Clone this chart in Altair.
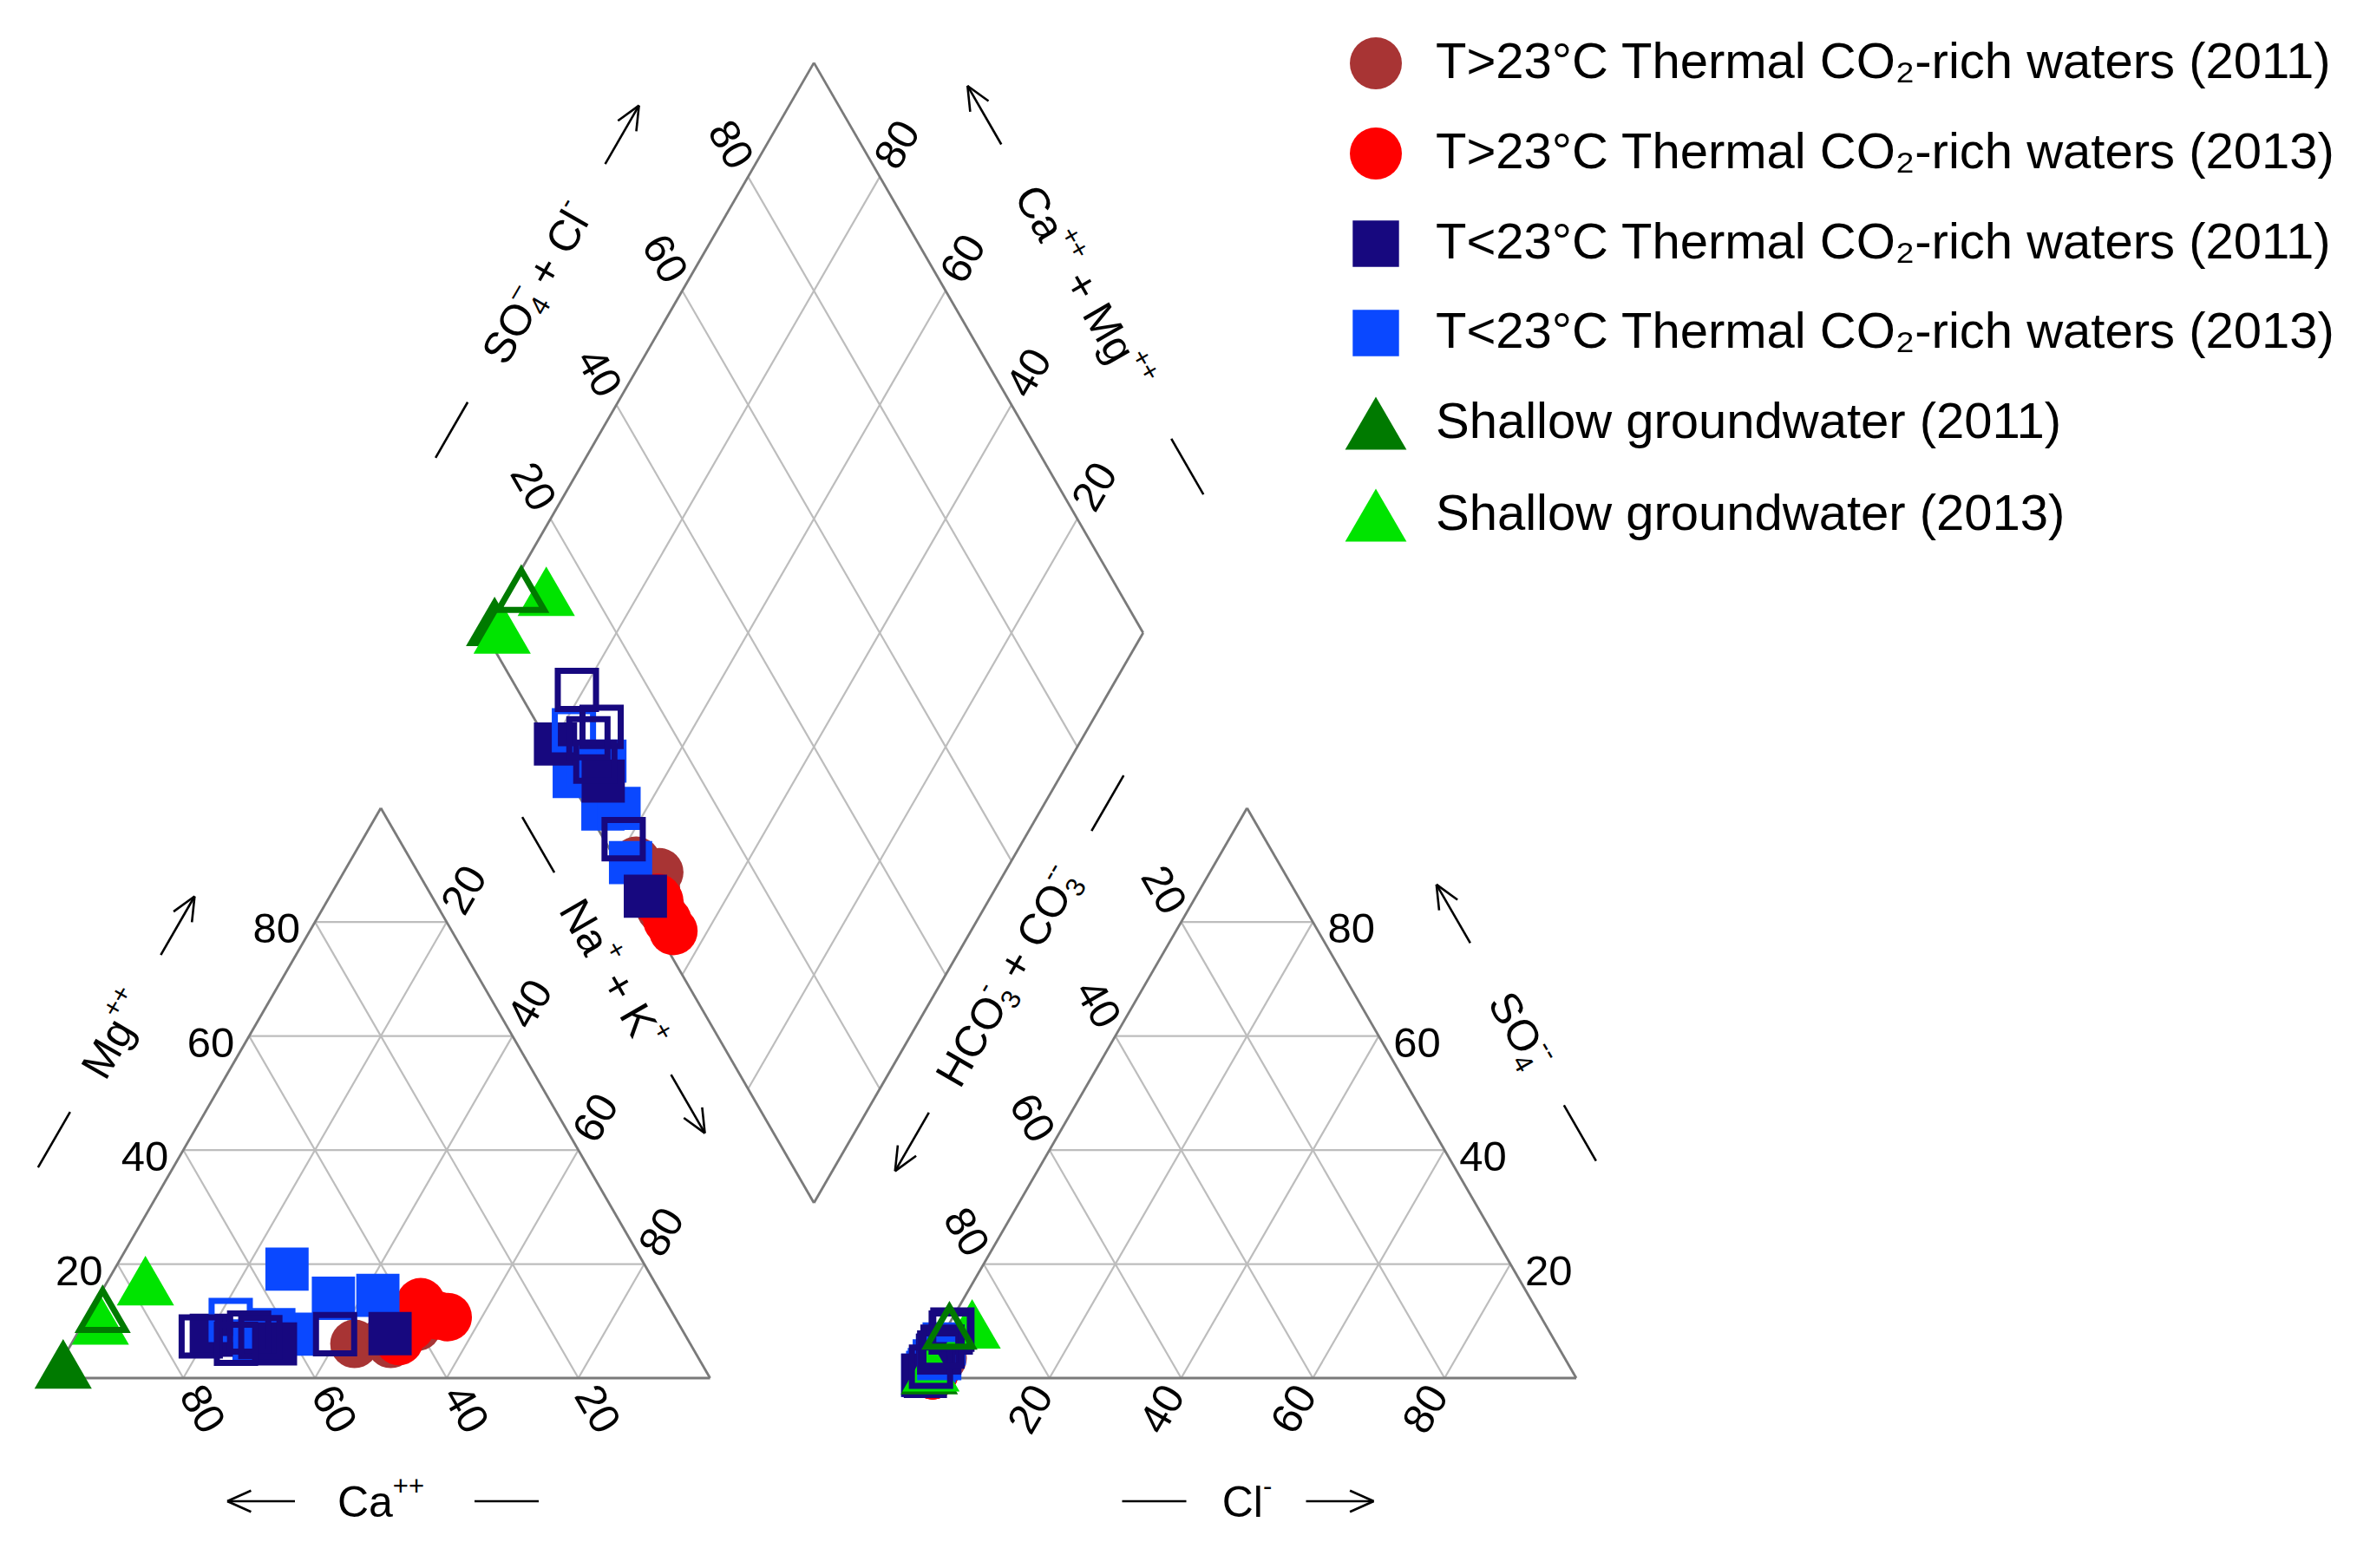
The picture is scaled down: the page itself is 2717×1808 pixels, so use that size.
import math
import altair as alt
import pandas as pd

# ------------------------------------------------------------------ data
GROUPS = [
    "T>23°C Thermal CO₂-rich waters (2011)",
    "T>23°C Thermal CO₂-rich waters (2013)",
    "T<23°C Thermal CO₂-rich waters (2011)",
    "T<23°C Thermal CO₂-rich waters (2013)",
    "Shallow groundwater (2011)",
    "Shallow groundwater (2013)",
]
COLORS = ["#A83434", "#FF0000", "#17087F", "#0A48FF", "#007A00", "#00E400"]

# samples in drawing order (group index into GROUPS)
sample_group = [0, 0, 0, 0,
                1, 1, 1, 1, 1,
                3, 3, 3, 3, 3, 3, 3,
                2, 2, 2, 2, 2, 2, 2, 2,
                4, 4,
                5, 5]
# cations, % meq
ca = [51.0, 45.5, 45.0, 40.0,
      37.3, 34.5, 41.0, 36.0, 44.0,
      67.7, 54.7, 58.9, 50.2, 43.2, 62.0, 66.0,
      73.7, 72.0, 66.0, 64.7, 63.0, 53.1, 44.7, 69.0,
      97.0, 86.3,
      87.5, 77.2]
mg = [6.0, 6.0, 7.5, 9.0,
      13.3, 10.7, 9.0, 11.0, 6.5,
      10.2, 19.1, 7.7, 14.0, 14.5, 8.5, 6.5,
      7.3, 7.5, 8.0, 7.2, 6.0, 7.7, 7.8, 6.0,
      2.5, 11.9,
      10.2, 17.1]
nak = [43.0, 48.5, 47.5, 51.0,
       49.4, 54.8, 50.0, 53.0, 49.5,
       22.1, 26.2, 33.4, 35.8, 42.3, 29.5, 27.5,
       19.0, 20.5, 26.0, 28.1, 31.0, 39.2, 47.5, 25.0,
       0.5, 1.8,
       2.3, 5.7]
# anions, % meq
hco3 = [97.0, 96.5, 94.5, 97.5,
        97.5, 97.5, 97.0, 97.5, 97.0,
        95.0, 99.0, 97.5, 95.0, 98.0, 93.0, 96.0,
        91.0, 99.0, 90.5, 94.5, 95.0, 97.0, 98.7, 93.5,
        97.5, 90.7,
        97.0, 87.0]
so4 = [1.0, 1.5, 3.5, 0.5,
       0.5, 0.5, 1.0, 0.5, 1.0,
       3.5, 0.5, 1.5, 4.0, 1.0, 6.0, 3.0,
       8.0, 0.5, 8.5, 4.5, 4.0, 2.0, 0.3, 5.5,
       1.5, 9.0,
       2.0, 9.5]
cl = [2.0, 2.0, 2.0, 2.0,
      2.0, 2.0, 2.0, 2.0, 2.0,
      1.5, 0.5, 1.0, 1.0, 1.0, 1.0, 1.0,
      1.0, 0.5, 1.0, 1.0, 1.0, 1.0, 1.0, 1.0,
      1.0, 0.3,
      1.0, 3.5]
hollow = [False, False, False, False,
          False, False, False, False, False,
          True, False, False, False, False, False, False,
          True, False, True, True, False, True, False, True,
          False, True,
          False, False]

TICKS = [20, 40, 60, 80]

# axis titles: pieces of (text, kind) with n = normal, b = subscript, p = superscript
T_MG = [("Mg", "n"), ("++", "p")]
T_CA = [("Ca", "n"), ("++", "p")]
T_NAK = [("Na", "n"), ("+", "p"), (" + K", "n"), ("+", "p")]
T_CL = [("Cl", "n"), ("-", "p")]
T_SO4 = [("SO", "n"), ("4", "b"), ("--", "p")]
T_HCO3 = [("HCO", "n"), ("3", "b"), ("-", "p"), (" + CO", "n"), ("3", "b"), ("--", "p")]
T_SO4CL = [("SO", "n"), ("4", "b"), ("–", "p"), (" + Cl", "n"), ("-", "p")]
T_CAMG = [("Ca", "n"), ("++", "p"), (" + Mg", "n"), ("++", "p")]

# ------------------------------------------------------------------ layout
W, H = 2700, 1790
S = 759.0                      # side of triangles / diamond, px
H60 = math.sqrt(3) / 2
LEFT0 = (51.5, 1581.0)         # bottom-left vertex of cation triangle
RIGHT0 = (1050.0, 1581.0)      # bottom-left vertex of anion triangle
DIA0 = (930.25, 1379.0)        # bottom vertex of diamond

CIRCLE = "circle"
SQUARE = "M-0.89,-0.89L0.89,-0.89L0.89,0.89L-0.89,0.89Z"
TRIANGLE = "M0,-1.02L1.18,1.02L-1.18,1.02Z"
SHAPES = [CIRCLE, CIRCLE, SQUARE, SQUARE, TRIANGLE, TRIANGLE]
MARK_SIZE = 3136
HOLLOW_SIZE = {SQUARE: 2450, TRIANGLE: 2000, CIRCLE: 2400}

FONT = "Liberation Sans"
TITLE_FS = 50
SMALL_FS = 31
# Arial / Liberation Sans advance widths (per 1000 em)
ADV = {"M": 833, "g": 556, "C": 722, "a": 556, "N": 722, "K": 667, "S": 667, "O": 778,
       "l": 222, "H": 722, " ": 278, "+": 584, "-": 333, "–": 556, "4": 556, "3": 556}


def tri(o, right, top):
    return (o[0] + S * (right + top / 2) / 100, o[1] - S * H60 * top / 100)


def dia(p, q):
    return (DIA0[0] + S * (q - p) / 200, DIA0[1] - S * H60 * (p + q) / 100)


def mid(a, b):
    return ((a[0] + b[0]) / 2, (a[1] + b[1]) / 2)


def off(pt, v, d):
    return (pt[0] + v[0] * d, pt[1] + v[1] * d)


UP_R = (0.5, -H60)
DN_R = (0.5, H60)

# ---- grid and frame segments
grid, edges = [], []


def seg(lst, a, b):
    lst.append(dict(x=a[0], y=a[1], x2=b[0], y2=b[1]))


for o in (LEFT0, RIGHT0):
    seg(edges, tri(o, 0, 0), tri(o, 100, 0))
    seg(edges, tri(o, 100, 0), tri(o, 0, 100))
    seg(edges, tri(o, 0, 100), tri(o, 0, 0))
    for k in TICKS:
        seg(grid, tri(o, 0, k), tri(o, 100 - k, k))
        seg(grid, tri(o, k, 0), tri(o, k, 100 - k))
        seg(grid, tri(o, 100 - k, 0), tri(o, 0, 100 - k))
seg(edges, dia(0, 0), dia(100, 0))
seg(edges, dia(100, 0), dia(100, 100))
seg(edges, dia(100, 100), dia(0, 100))
seg(edges, dia(0, 100), dia(0, 0))
for k in TICKS:
    seg(grid, dia(k, 0), dia(k, 100))
    seg(grid, dia(0, k), dia(100, k))

# ---- tick labels
D = 42
rot, rlab, llab = [], [], []
for k in TICKS:
    t = str(k)
    x, y = tri(LEFT0, 100 - k, 0)          # Ca
    rot.append(dict(x=x + D * 0.5, y=y + D * H60, t=t, a=60))
    x, y = tri(LEFT0, k, 100 - k)          # Na+K
    rot.append(dict(x=x + D * 0.5, y=y - D * H60, t=t, a=300))
    x, y = tri(RIGHT0, k, 0)               # Cl
    rot.append(dict(x=x - D * 0.5, y=y + D * H60, t=t, a=300))
    x, y = tri(RIGHT0, 0, 100 - k)         # HCO3
    rot.append(dict(x=x - D * 0.5, y=y - D * H60, t=t, a=60))
    x, y = dia(100, k)                     # SO4 + Cl
    rot.append(dict(x=x - D * 0.5, y=y - D * H60, t=t, a=60))
    x, y = dia(k, 100)                     # Ca + Mg
    rot.append(dict(x=x + D * 0.5, y=y - D * H60, t=t, a=300))
    x, y = tri(LEFT0, 0, k)                # Mg
    rlab.append(dict(x=x - 17, y=y + 9, t=t, a=0))
    x, y = tri(RIGHT0, 100 - k, k)         # SO4
    llab.append(dict(x=x + 17, y=y + 9, t=t, a=0))

# ---- axis titles with dash and arrow
titles = [
    (T_MG, off(mid(tri(LEFT0, 0, 0), tri(LEFT0, 0, 100)), (-H60, -0.5), 135), UP_R, 300, -140, 145, 1),
    (T_CA, off(mid(tri(LEFT0, 0, 0), tri(LEFT0, 100, 0)), (0, 1), 142), (1, 0), 0, 145, -138, -1),
    (T_NAK, off(off(mid(tri(LEFT0, 100, 0), tri(LEFT0, 0, 100)), (H60, -0.5), 136), DN_R, -80),
     DN_R, 60, -172, 173, 1),
    (T_CL, off(mid(tri(RIGHT0, 0, 0), tri(RIGHT0, 100, 0)), (0, 1), 142), (1, 0), 0, -107, 107, 1),
    (T_SO4, off(mid(tri(RIGHT0, 100, 0), tri(RIGHT0, 0, 100)), (H60, -0.5), 145), DN_R, 60, 137, -155, -1),
    (T_HCO3, off(off(mid(tri(RIGHT0, 0, 0), tri(RIGHT0, 0, 100)), (-H60, -0.5), 142), UP_R, 73),
     UP_R, 300, 231, -220, -1),
    (T_SO4CL, off(mid(dia(100, 0), dia(100, 100)), (-H60, -0.5), 150), UP_R, 300, -196, 197, 1),
    (T_CAMG, off(mid(dia(0, 100), dia(100, 100)), (H60, -0.5), 140), DN_R, 60, 239, -229, -1),
]


def text_width(s, fs):
    return sum(ADV.get(ch, 556) for ch in s) * fs / 1000


def layout_rich(parts, c, d, ang):
    up = (d[1], -d[0])
    placed, xo, prev_kind, prev_start, prev_w = [], 0.0, None, 0.0, 0.0
    for txt, kind in parts:
        fs = TITLE_FS if kind == "n" else SMALL_FS
        w = text_width(txt, fs)
        if kind == "p" and prev_kind == "b":
            start = prev_start
            xo = prev_start + max(w, prev_w)
        else:
            start = xo
            xo += w
        # SVG drops leading spaces: shift the visible text instead
        lead = len(txt) - len(txt.lstrip(" "))
        vis = txt.strip(" ")
        placed.append((vis, kind, fs, start + text_width(" " * lead, fs)))
        prev_kind, prev_start, prev_w = kind, start, w
    total = xo
    rows = []
    for txt, kind, fs, start in placed:
        rise = {"n": 0.0, "p": 0.5 * TITLE_FS, "b": -0.18 * TITLE_FS}[kind]
        pt = off(c, d, start - total / 2)
        pt = off(pt, up, -0.36 * TITLE_FS + rise)
        rows.append(dict(x=pt[0], y=pt[1], t=txt, a=ang, fs=fs))
    return rows


DASH_L, ARROW_L, HEAD_L, HEAD_A = 74, 78, 30, math.radians(24)
title_rows, decor = [], []
for parts, c, d, ang, dash_at, arrow_at, sign in titles:
    title_rows += layout_rich(parts, c, d, ang)
    seg(decor, off(c, d, dash_at - DASH_L / 2), off(c, d, dash_at + DASH_L / 2))
    tail = off(c, d, arrow_at - sign * ARROW_L / 2)
    tip = off(c, d, arrow_at + sign * ARROW_L / 2)
    seg(decor, tail, tip)
    bx, by = -sign * d[0], -sign * d[1]
    for s_ in (1, -1):
        ca_, sa_ = math.cos(s_ * HEAD_A), math.sin(s_ * HEAD_A)
        hv = (bx * ca_ - by * sa_, bx * sa_ + by * ca_)
        seg(decor, tip, off(tip, hv, HEAD_L))

# ---- sample points in the three fields
pts = []
for i, g in enumerate(sample_group):
    p_ = ca[i] + mg[i]
    q_ = so4[i] + cl[i]
    for (x, y) in (tri(LEFT0, nak[i], mg[i]), tri(RIGHT0, cl[i], so4[i]), dia(p_, q_)):
        pts.append(dict(x=x, y=y, group=GROUPS[g], col=COLORS[g], shp=SHAPES[g],
                        hs=HOLLOW_SIZE[SHAPES[g]], hollow=hollow[i]))
pts = pd.DataFrame(pts)

# ------------------------------------------------------------------ chart
XS = alt.Scale(domain=[0, W], nice=False, zero=False)
YS = alt.Scale(domain=[0, H], nice=False, zero=False, reverse=True)


def xy():
    return dict(x=alt.X("x:Q", scale=XS, axis=None), y=alt.Y("y:Q", scale=YS, axis=None))


def rules(rows, color, width):
    return alt.Chart(pd.DataFrame(rows)).mark_rule(color=color, strokeWidth=width).encode(
        x2="x2:Q", y2="y2:Q", **xy())


def texts(rows, align, size):
    return alt.Chart(pd.DataFrame(rows)).mark_text(
        font=FONT, fontSize=size, color="black", align=align, baseline="middle").encode(
        text="t:N", angle=alt.Angle("a:Q", scale=None), **xy())


title_layer = alt.Chart(pd.DataFrame(title_rows)).mark_text(
    font=FONT, color="black", align="left", baseline="alphabetic").encode(
    text="t:N", angle=alt.Angle("a:Q", scale=None), size=alt.Size("fs:Q", scale=None), **xy())

legend = alt.Legend(title=None, orient="none", legendX=1548, legendY=35,
                    labelFont=FONT, labelFontSize=58, labelColor="black", labelLimit=2500,
                    labelOffset=39, rowPadding=44, symbolSize=3600, symbolStrokeWidth=0,
                    symbolOpacity=1)

filled = alt.Chart(pts[~pts.hollow]).mark_point(filled=True, opacity=1, strokeWidth=0,
                                                size=MARK_SIZE).encode(
    color=alt.Color("group:N", scale=alt.Scale(domain=GROUPS, range=COLORS), legend=legend),
    shape=alt.Shape("group:N", scale=alt.Scale(domain=GROUPS, range=SHAPES), legend=legend),
    **xy())

open_pts = alt.Chart(pts[pts.hollow]).mark_point(filled=False, opacity=1, strokeWidth=7).encode(
    color=alt.Color("col:N", scale=None),
    shape=alt.Shape("shp:N", scale=None),
    size=alt.Size("hs:Q", scale=None),
    **xy())

chart = alt.layer(
    rules(grid, "#BDBDBD", 2.2),
    rules(edges, "#7A7A7A", 2.8),
    texts(rot, "center", 49),
    texts(rlab, "right", 49),
    texts(llab, "left", 49),
    title_layer,
    rules(decor, "black", 2.6),
    filled,
    open_pts,
).properties(
    width=W, height=H, padding=0, background="white",
    autosize=alt.AutoSizeParams(type="none"),
).configure_view(stroke=None)

chart.save("out.html", embed_options={"renderer": "svg", "actions": False})
